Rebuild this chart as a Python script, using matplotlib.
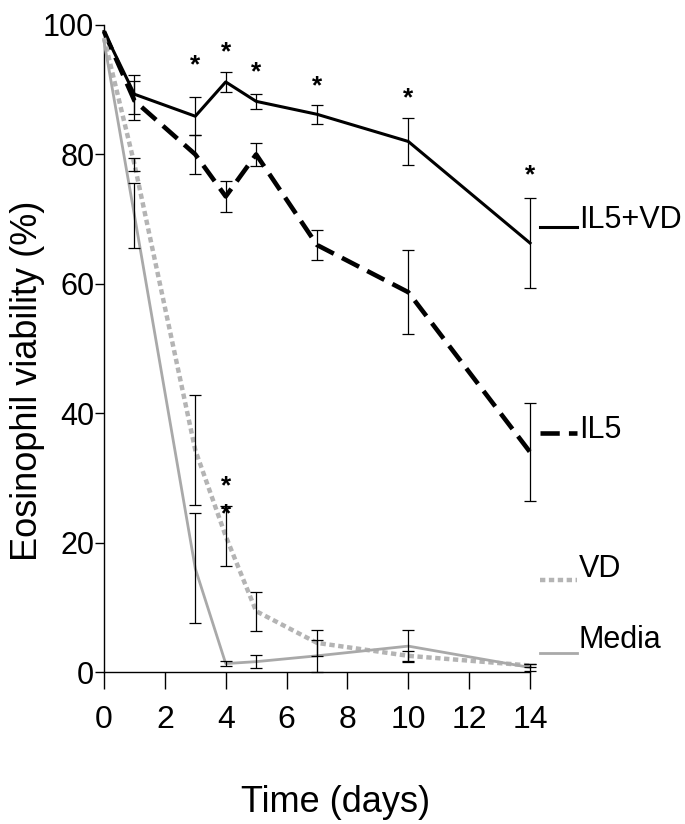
"""Eosinophil viability over time, four culture conditions."""

import matplotlib

matplotlib.use("Agg")

import matplotlib.pyplot as plt
from matplotlib import font_manager

# data
days = [0, 1, 3, 4, 5, 7, 10, 14]
il5_vd_mean = [99.0, 89.3, 85.9, 91.2, 88.2, 86.2, 82.0, 66.3]
il5_vd_sem = [0.0, 3.0, 2.9, 1.5, 1.2, 1.5, 3.7, 7.0]
il5_mean = [99.0, 88.3, 80.0, 73.5, 80.0, 66.0, 58.7, 34.0]
il5_sem = [0.0, 3.0, 3.0, 2.4, 1.8, 2.3, 6.5, 7.5]
vd_mean = [98.0, 78.5, 34.3, 21.0, 9.4, 4.5, 2.5, 1.0]
vd_sem = [0.0, 1.0, 8.5, 4.6, 3.0, 2.0, 0.8, 0.3]
media_mean = [97.5, 70.6, 16.0, 1.3, 1.6, 2.5, 4.0, 0.7]
media_sem = [0.0, 5.0, 8.5, 0.4, 1.0, 2.5, 2.5, 0.5]

labels = ["IL5+VD", "IL5", "VD", "Media"]

# significance asterisks
star_x = [3, 4, 5, 7, 10, 14, 4, 4]
star_y = [95.0, 97.0, 94.0, 91.8, 90.0, 78.0, 30.0, 25.7]

FONT = "Liberation Sans"
names = {f.name for f in font_manager.fontManager.ttflist}
NARROW = "Liberation Sans Narrow" if "Liberation Sans Narrow" in names else FONT
plt.rcParams["font.family"] = FONT

fig = plt.figure(figsize=(6.85, 8.24), dpi=100)
ax = fig.add_axes([104 / 685, 1 - 672 / 824, 426 / 685, 647 / 824])

styles = [
    dict(color="black", linewidth=2.2, linestyle="-"),
    dict(color="black", linewidth=3.3, linestyle=(0, (4.2, 2.0))),
    dict(color="#b4b4b4", linewidth=3.2, linestyle=(0, (1.2, 0.8)), dash_capstyle="butt"),
    dict(color="#a9a9a9", linewidth=2.0, linestyle="-"),
]
series = [
    (il5_vd_mean, il5_vd_sem),
    (il5_mean, il5_sem),
    (vd_mean, vd_sem),
    (media_mean, media_sem),
]

for (mean, sem), style in zip(series, styles):
    ax.plot(days, mean, clip_on=False, zorder=3, **style)
    ax.errorbar(days[1:], mean[1:], yerr=sem[1:], fmt="none", ecolor="black",
                elinewidth=0.9, capsize=4.5, capthick=0.9, zorder=4, clip_on=False)

for x, y in zip(star_x, star_y):
    ax.annotate("*", (x, y), xytext=(0, -6), textcoords="offset points",
                ha="center", va="center", fontsize=19, fontweight="bold")

# end-of-line labels with short line samples
label_line_y = [68.8, 36.9, 14.2, 2.9]
label_text_y = [68.6, 36.2, 14.7, 3.7]
for name, style, ly, ty in zip(labels, styles, label_line_y, label_text_y):
    ax.plot([14.32, 15.53], [ly, ly], clip_on=False, **style)
    ax.text(15.6, ty, name, fontsize=22, ha="left", va="baseline")

ax.set_xlim(0, 14)
ax.set_ylim(0, 100)
ax.set_xticks(range(0, 15, 2))
ax.set_yticks(range(0, 101, 20))
for side in ["top", "right"]:
    ax.spines[side].set_visible(False)
for side in ["left", "bottom"]:
    ax.spines[side].set_linewidth(1.0)
ax.tick_params(axis="x", direction="out", length=12.5, width=1.0, pad=11, labelsize=23)
ax.tick_params(axis="y", direction="out", length=6.5, width=1.0, pad=0.5, labelsize=22)

ax.set_xlabel("Time (days)", fontsize=26)
ax.xaxis.set_label_coords((336 - 104) / 426, -(812 - 672) / 647)
ax.xaxis.label.set_va("baseline")
ax.set_ylabel("Eosinophil viability (%)", fontsize=26, family=NARROW)
ax.yaxis.set_label_coords(-(104 - 28) / 426, (672 - 381) / 647)
ax.yaxis.label.set_va("center")

fig.savefig("out.png", dpi=100)
